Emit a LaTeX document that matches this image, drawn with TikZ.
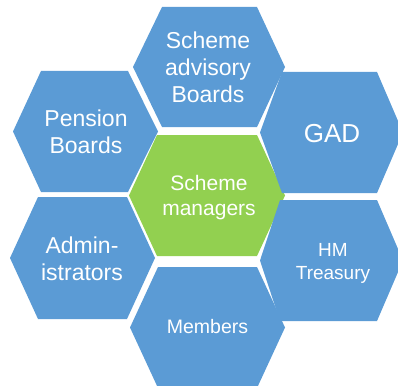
\documentclass[tikz,border=0pt]{standalone}
\usepackage{fontspec}
\setmainfont{Liberation Sans}
\definecolor{hexblue}{RGB}{91,155,213}
\definecolor{hexgreen}{RGB}{146,208,80}
\begin{document}
\begin{tikzpicture}[x=1pt,y=-1pt,
  cell/.style={fill=hexblue},
  hub/.style={fill=hexgreen},
  hextext/.style={text=white, align=center, inner sep=0pt}]
\useasboundingbox (0,0) rectangle (398,385);
\begin{scope}
  \clip (0,0) rectangle (398,385);
  % top: scheme advisory boards
  \fill[cell] (162,7) -- (257,7) -- (285,67) -- (257,127) -- (162,127) -- (133,67) -- cycle;
  % centre: scheme managers
  \fill[hub] (157,135) -- (257,135) -- (285,195.5) -- (257,256) -- (157,256) -- (129,195.5) -- cycle;
  % upper left: pension boards
  \fill[cell] (41,71) -- (128,71) -- (158,131.5) -- (128,192) -- (41,192) -- (13,131.5) -- cycle;
  % lower left: administrators
  \fill[cell] (38,197) -- (127,197) -- (155,258) -- (127,319) -- (38,319) -- (10,258) -- cycle;
  % upper right: GAD
  \fill[cell] (282,72) -- (377,72) -- (403,132.5) -- (377,193) -- (282,193) -- (260,132.5) -- cycle;
  % lower right: HM Treasury
  \fill[cell] (280,200) -- (377,200) -- (403,260.5) -- (377,321) -- (280,321) -- (260,260.5) -- cycle;
  % bottom: members
  \fill[cell] (158,267) -- (257,267) -- (285,327.5) -- (257,388) -- (158,388) -- (130,327.5) -- cycle;
\end{scope}

\node[hextext, font=\fontsize{23}{27}\selectfont] (sab) at (208,67.5) {Scheme\\advisory\\Boards};
\node[hextext, font=\fontsize{23}{26.7}\selectfont] (pension) at (86,131.8) {Pension\\Boards};
\node[hextext, font=\fontsize{26}{30}\selectfont] (gad) at (332,133.5) {GAD};
\node[hextext, font=\fontsize{21}{25.7}\selectfont] (managers) at (209,197.5) {Scheme\\managers};
\node[hextext, font=\fontsize{23}{27}\selectfont] (admin) at (82,258.6) {Admin-\\istrators};
\node[hextext, font=\fontsize{19}{23.3}\selectfont] (hmt) at (333,263.5) {HM\\Treasury};
\node[hextext, font=\fontsize{19.5}{23}\selectfont] (members) at (207.5,327) {Members};
\end{tikzpicture}
\end{document}
